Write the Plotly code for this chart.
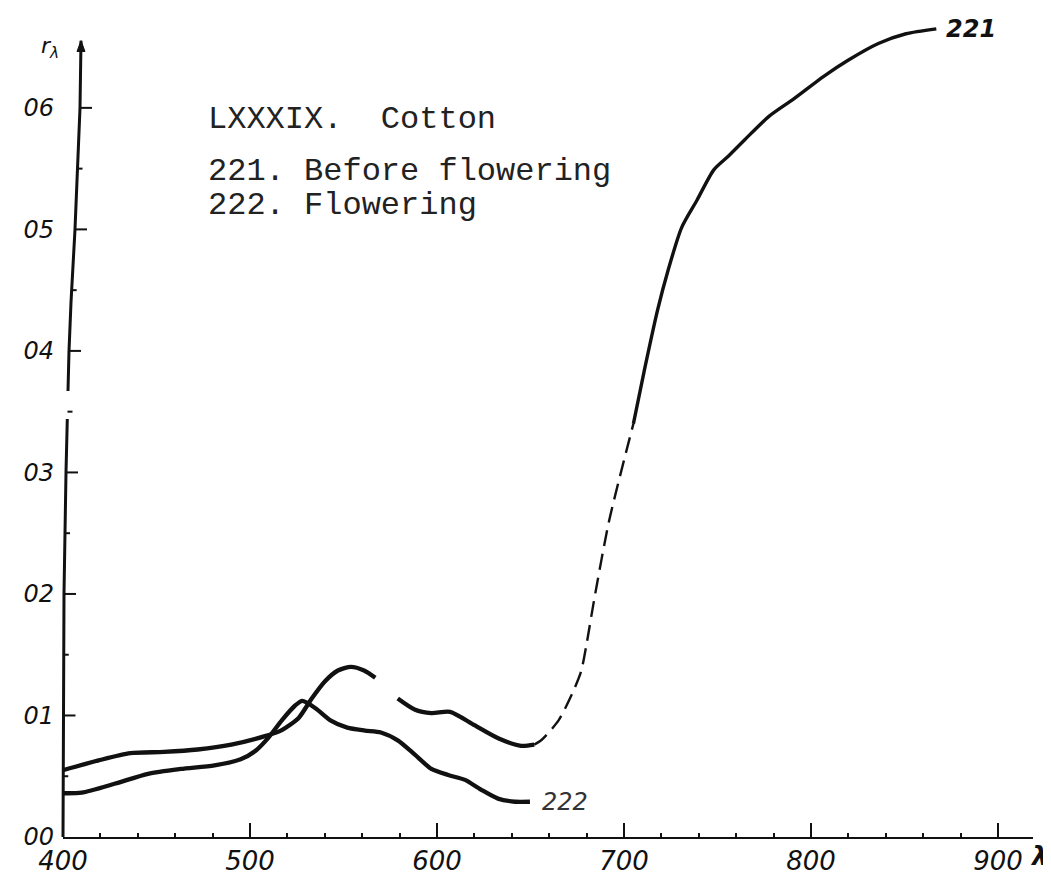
import numpy as np
import plotly.graph_objects as go

# ---- data (wavelength in nm, reflectance r_lambda) ----
wl_ticks = [400, 500, 600, 700, 800, 900]
wl_tick_text = ["400", "500", "600", "700", "800", "900"]
r_ticks = [0.0, 0.1, 0.2, 0.3, 0.4, 0.5, 0.6]
r_tick_text = ["00", "01", "02", "03", "04", "05", "06"]
r_minor = [0.05, 0.15, 0.25, 0.35, 0.45, 0.55]

# 221. Before flowering (segments as drawn: solid, solid, dashed, solid)
wl_221_a = [400, 419, 436, 454, 472, 490, 508, 517, 526, 533, 540, 547, 554, 561, 567]
r_221_a = [0.055, 0.063, 0.069, 0.070, 0.072, 0.076, 0.083, 0.088, 0.098, 0.114, 0.128, 0.137, 0.140, 0.137, 0.131]
wl_221_b = [579, 588, 597, 607, 620, 633, 645, 652]
r_221_b = [0.114, 0.105, 0.102, 0.103, 0.092, 0.081, 0.075, 0.076]
wl_221_c = [652, 656, 665, 672, 677, 680, 684, 692, 705]
r_221_c = [0.076, 0.080, 0.096, 0.117, 0.136, 0.159, 0.195, 0.26, 0.34]
wl_221_d = [705, 711, 718, 723.5, 730.8, 739, 748, 755.6, 764.7, 777.5, 790.4, 806.8, 819.6, 836, 850.8, 867]
r_221_d = [0.34, 0.385, 0.434, 0.466, 0.5015, 0.524, 0.549, 0.560, 0.574, 0.593, 0.607, 0.626, 0.639, 0.653, 0.661, 0.665]

# 222. Flowering
wl_222 = [400, 410, 428, 445.5, 463, 481, 495, 503, 510, 517, 524, 528, 535, 543, 552, 561.5,
          570, 579, 588, 597, 606, 615, 623.5, 632.6, 641.7, 649.7]
r_222 = [0.036, 0.0365, 0.044, 0.052, 0.056, 0.059, 0.064, 0.071, 0.082, 0.096, 0.108, 0.112,
         0.106, 0.096, 0.090, 0.0876, 0.086, 0.0795, 0.068, 0.056, 0.051, 0.047, 0.039, 0.0316,
         0.029, 0.029]

title_lines = ["LXXXIX.  Cotton", "221. Before flowering", "222. Flowering"]

# hand-drawn (slightly leaning) ordinate line of the scanned figure: value -> pixel lean
axis_lo_v = [0.0, 0.1, 0.2, 0.3, 0.344]
axis_lo_dx = [0, 0.5, 1, 3, 4.3]
axis_hi_v = [0.367, 0.40, 0.44, 0.50, 0.60, 0.6553]
axis_hi_dx = [5, 6, 8, 12, 17, 18]

INK = "#111111"
HAND = "DejaVu Sans"
TYPE = "Liberation Mono"
Y_TOP = 0.6756
X_MAX = 918.7
PLOT_W = 970.0  # plot-area width in px (1051 - 55 - 26)

fig = go.Figure()


def add_seg(x, y, width, dash="solid"):
    fig.add_trace(go.Scatter(x=x, y=y, mode="lines",
                             line=dict(color=INK, width=width, dash=dash, shape="spline", smoothing=0.7),
                             hoverinfo="skip", showlegend=False))


add_seg(wl_221_a, r_221_a, 4.3)
add_seg(wl_221_b, r_221_b, 4.3)
add_seg(wl_221_c, r_221_c, 2.4, dash="16px,8px")
add_seg(wl_221_d, r_221_d, 3.4)
add_seg(wl_222, r_222, 4.3)

# ---- ordinate axis drawn as a leaning line with a gap, ticks and arrow (paper refs: no clipping) ----
def px(dx):
    return dx / PLOT_W


def py(v):
    return v / Y_TOP


all_v = axis_lo_v + axis_hi_v
all_dx = axis_lo_dx + axis_hi_dx
shapes = []
for vs, dxs in ((axis_lo_v, axis_lo_dx), (axis_hi_v, axis_hi_dx)):
    path = "M" + " L".join(f"{px(dx):.5f},{py(v):.5f}" for v, dx in zip(vs, dxs))
    shapes.append(dict(type="path", xref="paper", yref="paper", path=path,
                       line=dict(color=INK, width=3)))
for v in r_ticks[1:]:
    dx = float(np.interp(v, all_v, all_dx))
    shapes.append(dict(type="line", xref="paper", yref="paper", layer="above",
                       x0=px(dx), x1=px(dx + 12), y0=py(v), y1=py(v), line=dict(color=INK, width=2)))
for v in r_minor:
    dx = float(np.interp(v, all_v, all_dx))
    shapes.append(dict(type="line", xref="paper", yref="paper", layer="above",
                       x0=px(dx), x1=px(dx + 5), y0=py(v), y1=py(v), line=dict(color=INK, width=2)))
tip_v = axis_hi_v[-1]
tip_dx = axis_hi_dx[-1]
base_v = tip_v - 11 / 1233
shapes.append(dict(type="path", xref="paper", yref="paper",
                   path=f"M{px(tip_dx):.5f},{py(tip_v):.5f} L{px(tip_dx - 4):.5f},{py(base_v):.5f} "
                        f"L{px(tip_dx + 4):.5f},{py(base_v):.5f} Z",
                   fillcolor=INK, line=dict(color=INK, width=1)))

annotations = [
    dict(x=476.5, y=(841 - 112.5) / 1233, xref="x", yref="y", text=title_lines[0], showarrow=False,
         xanchor="left", yanchor="middle", font=dict(family=TYPE, size=32, color="#222")),
    dict(x=476.5, y=(841 - 166) / 1233, xref="x", yref="y", text=title_lines[1], showarrow=False,
         xanchor="left", yanchor="middle", font=dict(family=TYPE, size=32, color="#222")),
    dict(x=476.5, y=(841 - 200) / 1233, xref="x", yref="y", text=title_lines[2], showarrow=False,
         xanchor="left", yanchor="middle", font=dict(family=TYPE, size=32, color="#222")),
    # curve labels
    dict(x=wl_221_d[-1], y=r_221_d[-1], xref="x", yref="y", text="221", showarrow=False,
         xanchor="left", xshift=8, yanchor="middle",
         font=dict(family=HAND, size=24, color=INK, style="italic", weight="bold")),
    dict(x=wl_222[-1], y=r_222[-1], xref="x", yref="y", text="222", showarrow=False,
         xanchor="left", xshift=10, yanchor="middle",
         font=dict(family=HAND, size=24, color="#333", style="italic")),
    # axis symbols
    dict(x=-0.0134, y=0.962, xref="paper", yref="paper", text="r<sub>λ</sub>", showarrow=False,
         xanchor="center", yanchor="middle",
         font=dict(family=HAND, size=22, color=INK, style="italic")),
    dict(x=1.006, y=-0.0228, xref="paper", yref="paper", text="λ", showarrow=False,
         xanchor="center", yanchor="middle",
         font=dict(family=HAND, size=26, color=INK, style="italic", weight="bold")),
]

fig.update_layout(
    width=1051, height=876,
    margin=dict(l=55, r=26, t=8, b=35),
    paper_bgcolor="white", plot_bgcolor="white",
    showlegend=False,
    annotations=annotations,
    shapes=shapes,
    xaxis=dict(
        range=[400, X_MAX], tickmode="array", tickvals=wl_ticks, ticktext=wl_tick_text,
        showline=True, linecolor=INK, linewidth=2.2, mirror=False,
        ticks="inside", ticklen=14, tickwidth=1.5, tickcolor=INK,
        minor=dict(tick0=400, dtick=20, ticks="inside", ticklen=4, tickwidth=1.5, tickcolor=INK),
        showgrid=False, zeroline=False,
        tickfont=dict(family=HAND, size=26, color=INK, style="italic"),
    ),
    yaxis=dict(
        range=[0, Y_TOP], tickmode="array", tickvals=r_ticks, ticktext=r_tick_text,
        showline=False, ticks="", ticklabelstandoff=8,
        showgrid=False, zeroline=False,
        tickfont=dict(family=HAND, size=24, color=INK, style="italic"),
    ),
)

fig.write_html("out.html")
